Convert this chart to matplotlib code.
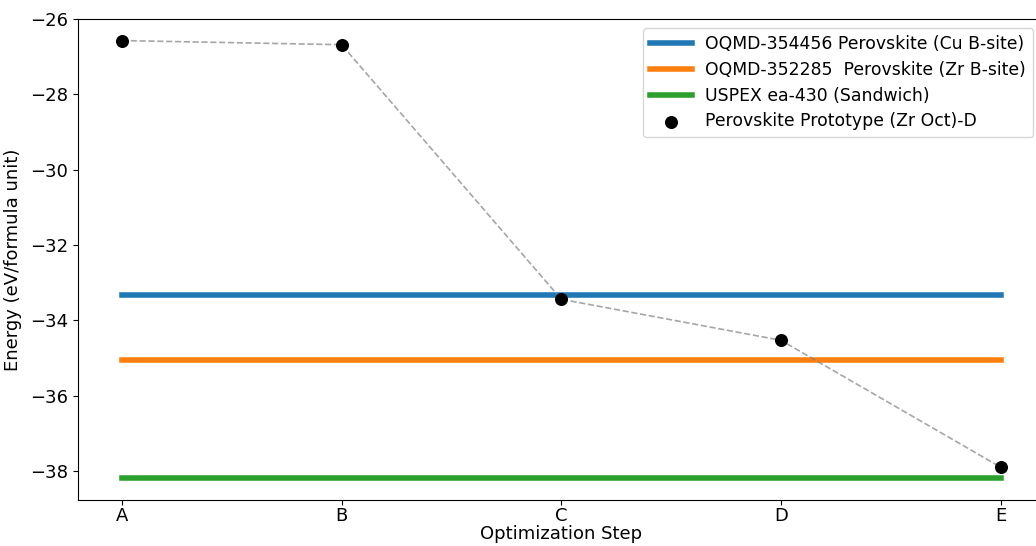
import matplotlib.pyplot as plt
import matplotlib

matplotlib.rcParams['font.size'] = 13

steps = ['A', 'B', 'C', 'D', 'E']
prototype_energy = [-26.57, -26.68, -33.44, -34.53, -37.90]

ref_names = ['OQMD-354456 Perovskite (Cu B-site)',
             'OQMD-352285  Perovskite (Zr B-site)',
             'USPEX ea-430 (Sandwich)']
ref_energy = [-33.33, -35.06, -38.19]
ref_colors = ['#1f77b4', '#ff7f0e', '#2ca02c']

fig = plt.figure(figsize=(10.36, 5.46), dpi=100)
ax = fig.add_axes([0.0753, 0.085, 0.933, 0.88])

x = list(range(len(steps)))
for name, e, c in zip(ref_names, ref_energy, ref_colors):
    ax.plot([x[0], x[-1]], [e, e], color=c, linewidth=4, label=name)

ax.plot(x, prototype_energy, '--', color='grey', alpha=0.7, linewidth=1.2)
ax.scatter(x, prototype_energy, color='black', s=70, zorder=3,
           label='Perovskite Prototype (Zr Oct)-D')

ax.set_xticks(x)
ax.set_xticklabels(steps)
ax.tick_params(axis='x', pad=2)
ax.set_xlim(-0.2, 4.2)
ax.set_ylim(-38.76, -26.0)
ax.set_yticks([-38, -36, -34, -32, -30, -28, -26])
ax.set_xlabel('Optimization Step', labelpad=0)
ax.set_ylabel('Energy (eV/formula unit)', labelpad=6)

ax.legend(loc='upper right', bbox_to_anchor=(0.988, 0.981), borderaxespad=0,
          fontsize=12.4, handlelength=2.4, labelspacing=0.45)

plt.savefig('out.png')
